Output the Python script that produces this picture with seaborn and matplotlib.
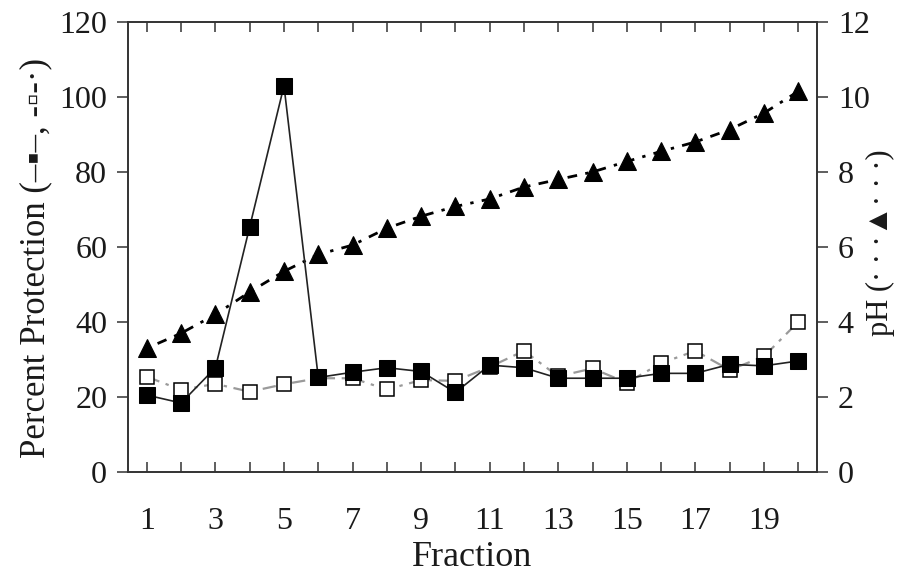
import matplotlib
matplotlib.use("Agg")
import matplotlib.pyplot as plt
import seaborn as sns
import pandas as pd
from matplotlib.ticker import FixedLocator, FixedFormatter

fraction = list(range(1, 21))
filled_protection = [20.5, 18.4, 27.8, 65.4, 103.0, 25.2, 26.6, 27.8, 26.8, 21.2,
                     28.5, 27.8, 25.0, 25.0, 25.0, 26.3, 26.3, 28.7, 28.3, 29.6]
open_protection = [25.4, 21.9, 23.5, 21.4, 23.4, 25.0, 25.0, 22.0, 24.5, 24.3,
                   28.0, 32.3, 25.5, 27.6, 23.8, 29.0, 32.3, 27.2, 30.8, 40.0]
ph_values = [3.3, 3.7, 4.2, 4.8, 5.35, 5.8, 6.05, 6.5, 6.82, 7.08,
             7.28, 7.6, 7.8, 8.0, 8.28, 8.55, 8.8, 9.13, 9.57, 10.15]
left_ticks = [0, 20, 40, 60, 80, 100, 120]
right_ticks = [0, 2, 4, 6, 8, 10, 12]
x_tick_labels = [str(v) if v % 2 == 1 else "" for v in fraction]

sns.set_theme(style="white")
plt.rcParams['font.family'] = ['Liberation Serif', 'DejaVu Sans']
plt.rcParams['text.color'] = '#1a1a1a'
plt.rcParams['axes.labelcolor'] = '#1a1a1a'
plt.rcParams['xtick.color'] = '#333333'
plt.rcParams['ytick.color'] = '#333333'
plt.rcParams['xtick.labelcolor'] = '#1a1a1a'
plt.rcParams['ytick.labelcolor'] = '#1a1a1a'

df = pd.DataFrame({"Fraction": fraction, "filled": filled_protection,
                   "open": open_protection, "pH": ph_values})

fig = plt.figure(figsize=(9.06, 5.76), dpi=100)
ax = fig.add_axes([0.1413, 0.1806, 0.7605, 0.7812])
ax2 = ax.twinx()

# pH on right axis
sns.lineplot(data=df, x="Fraction", y="pH", ax=ax2, color="black",
             marker="^", markersize=13, markeredgecolor="black",
             linewidth=2.0, linestyle=(0, (1.2, 3.0, 3.5, 3.0)), zorder=3)

# open squares (grey dash-dot line)
sns.lineplot(data=df, x="Fraction", y="open", ax=ax, color="#9a9a9a",
             marker="s", markersize=10.5, markerfacecolor="white",
             markeredgecolor="black", markeredgewidth=1.1,
             linewidth=1.6, linestyle=(0, (6, 3, 1.5, 3)), zorder=2)
# filled squares (solid black line)
sns.lineplot(data=df, x="Fraction", y="filled", ax=ax, color="#222222",
             marker="s", markersize=11.5, markerfacecolor="black",
             markeredgecolor="black", linewidth=1.2, zorder=4)

ax.set_zorder(ax2.get_zorder() + 1)
ax.patch.set_visible(False)

ax.set_xlim(0.45, 20.55)
ax.set_ylim(0, 120)
ax2.set_ylim(0, 12)

ax.xaxis.set_major_locator(FixedLocator(fraction))
ax.xaxis.set_major_formatter(FixedFormatter(x_tick_labels))
ax.set_yticks(left_ticks)
ax2.set_yticks(right_ticks)

for a in (ax, ax2):
    for s in a.spines.values():
        s.set_color("#333333")
        s.set_linewidth(1.2)

ax.tick_params(axis="x", direction="in", length=7, width=1.1, top=True,
               bottom=True, labelsize=23, pad=25)
ax.tick_params(axis="y", direction="out", length=8, width=1.1, labelsize=23,
               pad=7, left=True)
ax2.tick_params(axis="y", direction="out", length=8, width=1.1, labelsize=23,
                pad=7, right=True)

ax.set_xlabel("Fraction", fontsize=26, labelpad=4)
ax.set_ylabel("Percent Protection (\u2013\u25aa\u2013, -\u25ab-\u00b7)", fontsize=25)
ax.yaxis.set_label_coords(-0.110, 0.475)
ax2.set_ylabel("pH (\u00b7 \u00b7 \u00b7\u25b2\u00b7 \u00b7 \u00b7)", fontsize=22, rotation=90)
ax2.yaxis.set_label_coords(1.071, 0.51)
ax.grid(False)
ax2.grid(False)

fig.savefig("out.png", dpi=100)
